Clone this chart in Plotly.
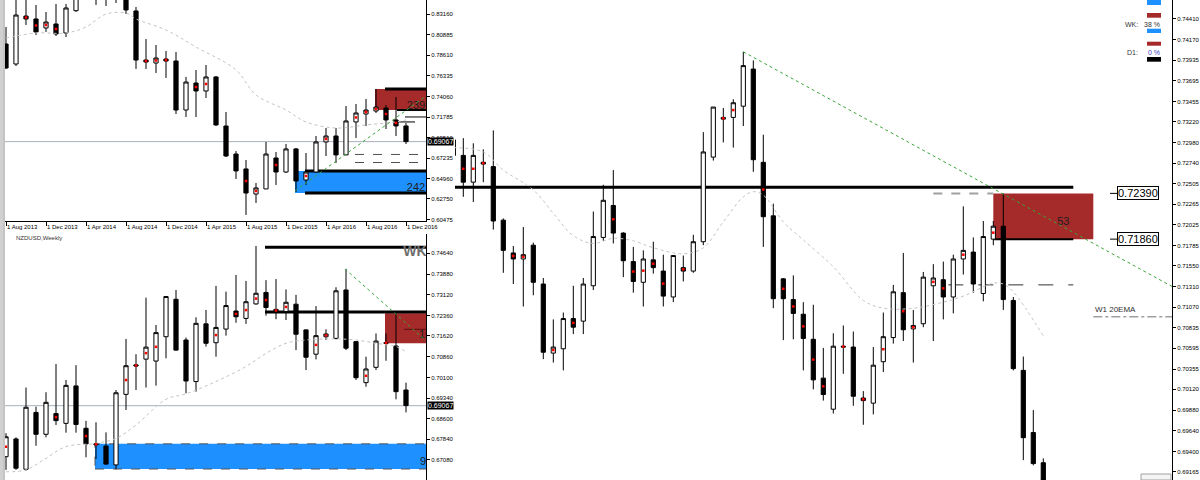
import plotly.graph_objects as go

FONT = "Liberation Sans"
W, H = 1200, 480

# ---------------- Monthly panel (top-left) ----------------
m_ticklabels = ["1 Aug 2013", "1 Dec 2013", "1 Apr 2014", "1 Aug 2014", "1 Dec 2014", "1 Apr 2015",
                "1 Aug 2015", "1 Dec 2015", "1 Apr 2016", "1 Aug 2016", "1 Dec 2016"]
m_open = [0.7985, 0.7764, 0.8294, 0.8261, 0.8162, 0.8206, 0.8107, 0.8353, 0.8680, 0.8650, 0.8560, 0.8760,
          0.8500, 0.8350, 0.7808, 0.7775, 0.7819, 0.7797, 0.7256, 0.7554, 0.7466, 0.7621, 0.7079, 0.6770,
          0.6605, 0.6328, 0.6384, 0.6726, 0.6571, 0.6826, 0.6483, 0.6571, 0.6903, 0.6969, 0.6760, 0.7124,
          0.7212, 0.7245, 0.7278, 0.7146, 0.7080]
m_high = [0.8173, 0.8480, 0.8500, 0.8416, 0.8338, 0.8427, 0.8427, 0.8720, 0.8790, 0.8760, 0.8800, 0.8840,
          0.8560, 0.8394, 0.8040, 0.7974, 0.7908, 0.7897, 0.7621, 0.7698, 0.7753, 0.7632, 0.7234, 0.6803,
          0.6704, 0.6450, 0.6903, 0.6792, 0.6881, 0.6837, 0.6781, 0.6969, 0.7057, 0.7057, 0.7300, 0.7322,
          0.7378, 0.7488, 0.7311, 0.7400, 0.7113]
m_low = [0.7709, 0.7742, 0.8195, 0.8084, 0.8118, 0.8073, 0.8062, 0.8340, 0.8530, 0.8416, 0.8405, 0.8438,
         0.8316, 0.7709, 0.7709, 0.7665, 0.7610, 0.7212, 0.7179, 0.7179, 0.7389, 0.7079, 0.6737, 0.6494,
         0.6097, 0.6229, 0.6384, 0.6428, 0.6560, 0.6351, 0.6428, 0.6571, 0.6748, 0.6671, 0.6760, 0.6947,
         0.7079, 0.7223, 0.7046, 0.6969, 0.6881]
m_close = [0.7720, 0.8305, 0.8261, 0.8118, 0.8228, 0.8096, 0.8383, 0.8680, 0.8650, 0.8560, 0.8760, 0.8500,
           0.8361, 0.7808, 0.7786, 0.7830, 0.7797, 0.7256, 0.7565, 0.7466, 0.7621, 0.7091, 0.6748, 0.6583,
           0.6339, 0.6395, 0.6770, 0.6571, 0.6826, 0.6472, 0.6571, 0.6903, 0.6969, 0.6760, 0.7135, 0.7223,
           0.7256, 0.7289, 0.7146, 0.7080, 0.6907]
m_red_dots = [2, 3, 4, 5, 14, 15, 16, 19, 20, 24, 25, 27, 30, 32, 35, 36, 37, 38, 39]
m_ema_idx = [0, 3, 6, 8, 10, 12, 13, 16, 19, 23, 25, 28, 30, 33, 36, 39, 40]
m_ema = [0.8051, 0.8107, 0.8107, 0.8173, 0.8316, 0.8327, 0.8261, 0.8140, 0.7952, 0.7698, 0.7422,
         0.7256, 0.7124, 0.7057, 0.7091, 0.7124, 0.7146]
m_yticks = [0.83160, 0.80885, 0.78610, 0.76335, 0.74060, 0.71785, 0.69510, 0.67235, 0.64960, 0.62750, 0.60475]
m_supply = [0.7256, 0.7488]
m_demand = [0.6339, 0.6583]
m_dash_levels = [0.6765, 0.6676]
m_thin_levels = [0.7179, 0.7124]
m_trend_x = [28.9, 42.0]
m_trend_y = [0.6362, 0.7411]
m_zone_labels = ["239", "242"]

# ---------------- Weekly panel (bottom-left) ----------------
w_open = [0.6720, 0.6785, 0.6674, 0.6882, 0.6802, 0.6878, 0.6842, 0.6979, 0.6824, 0.6767, 0.6759, 0.6690,
          0.6948, 0.7056, 0.7077, 0.7070, 0.7159, 0.7296, 0.7147, 0.6995, 0.7206, 0.7137, 0.7187, 0.7253,
          0.7226, 0.7279, 0.7321, 0.7259, 0.7251, 0.7278, 0.7184, 0.7095, 0.7159, 0.7153, 0.7330, 0.7141,
          0.6991, 0.7047, 0.7137, 0.7125, 0.6964]
w_high = [0.6806, 0.6791, 0.6973, 0.6903, 0.6956, 0.7059, 0.7001, 0.7055, 0.6851, 0.6846, 0.6809, 0.6964,
          0.7151, 0.7095, 0.7302, 0.7202, 0.7308, 0.7330, 0.7156, 0.7230, 0.7257, 0.7345, 0.7324, 0.7385,
          0.7363, 0.7491, 0.7366, 0.7370, 0.7332, 0.7312, 0.7186, 0.7271, 0.7186, 0.7340, 0.7407, 0.7143,
          0.7086, 0.7171, 0.7171, 0.7245, 0.6991]
w_low = [0.6672, 0.6672, 0.6669, 0.6760, 0.6791, 0.6836, 0.6808, 0.6808, 0.6718, 0.6712, 0.6690, 0.6674,
         0.6891, 0.6964, 0.6973, 0.6980, 0.7080, 0.7108, 0.6952, 0.6958, 0.7123, 0.7086, 0.7163, 0.7210,
         0.7206, 0.7276, 0.7236, 0.7223, 0.7220, 0.7110, 0.7037, 0.7076, 0.7147, 0.7149, 0.7110, 0.7001,
         0.6976, 0.7037, 0.7071, 0.6930, 0.6882]
w_close = [0.6793, 0.6678, 0.6901, 0.6802, 0.6919, 0.6852, 0.6981, 0.6838, 0.6767, 0.6764, 0.6693, 0.6954,
           0.7053, 0.7052, 0.7121, 0.7174, 0.7306, 0.7110, 0.6997, 0.7208, 0.7135, 0.7193, 0.7273, 0.7232,
           0.7287, 0.7318, 0.7266, 0.7251, 0.7285, 0.7168, 0.7084, 0.7163, 0.7169, 0.7327, 0.7117, 0.7009,
           0.7041, 0.7143, 0.7135, 0.6958, 0.6907]
w_red_dots = [0, 5, 8, 9, 12, 13, 14, 15, 21, 23, 24, 25, 26, 27, 28, 31, 32, 36, 38]
w_ema_idx = [0, 2, 4, 6, 9, 11, 13, 16, 18, 21, 24, 26, 28, 30, 33, 35, 37, 39, 40]
w_ema = [0.6665, 0.6672, 0.6714, 0.6757, 0.6769, 0.6787, 0.6836, 0.6930, 0.6950, 0.6995, 0.7050, 0.7098,
         0.7135, 0.7147, 0.7151, 0.7147, 0.7135, 0.7123, 0.7104]
w_yticks = [0.74640, 0.73880, 0.73120, 0.72360, 0.71620, 0.70860, 0.70100, 0.69340, 0.68600, 0.67840,
            0.67080, 0.66340]
w_supply = [0.7135, 0.7245]
w_demand = [0.6675, 0.6767]
w_wk_level = 0.7486
w_black_level = 0.7249
w_inner_level = 0.7186
w_trend_x = [33.9, 42.0]
w_trend_y = [0.7407, 0.7144]
w_zone_labels = ["WK", "10", "90"]

# ---------------- Daily panel (right) ----------------
d_open = [0.7301, 0.7283, 0.7252, 0.7275, 0.7270, 0.7208, 0.7170, 0.7163, 0.7179, 0.7134, 0.7054, 0.7059,
          0.7094, 0.7091, 0.7132, 0.7188, 0.7225, 0.7193, 0.7160, 0.7136, 0.7162, 0.7149, 0.7119, 0.7153,
          0.7149, 0.7183, 0.7281, 0.7325, 0.7327, 0.7340, 0.7383, 0.7275, 0.7213, 0.7140, 0.7116, 0.7099,
          0.7070, 0.7025, 0.6989, 0.7062, 0.7061, 0.7002, 0.6996, 0.7044, 0.7072, 0.7124, 0.7082, 0.7088,
          0.7132, 0.7139, 0.7119, 0.7163, 0.7171, 0.7123, 0.7186, 0.7201, 0.7115, 0.7034, 0.6962, 0.6927]
d_high = [0.7305, 0.7303, 0.7297, 0.7290, 0.7312, 0.7210, 0.7178, 0.7200, 0.7182, 0.7141, 0.7093, 0.7101,
          0.7132, 0.7141, 0.7218, 0.7249, 0.7266, 0.7194, 0.7177, 0.7173, 0.7183, 0.7168, 0.7167, 0.7167,
          0.7191, 0.7310, 0.7339, 0.7338, 0.7348, 0.7403, 0.7393, 0.7307, 0.7227, 0.7141, 0.7144, 0.7113,
          0.7110, 0.7060, 0.7077, 0.7086, 0.7079, 0.7010, 0.7061, 0.7101, 0.7133, 0.7170, 0.7104, 0.7148,
          0.7157, 0.7160, 0.7168, 0.7224, 0.7188, 0.7207, 0.7207, 0.7239, 0.7119, 0.7050, 0.6988, 0.6932]
d_low = [0.7278, 0.7235, 0.7229, 0.7252, 0.7197, 0.7147, 0.7134, 0.7108, 0.7121, 0.7047, 0.7043, 0.7034,
         0.7076, 0.7076, 0.7127, 0.7184, 0.7181, 0.7142, 0.7124, 0.7108, 0.7146, 0.7108, 0.7113, 0.7137,
         0.7147, 0.7179, 0.7277, 0.7298, 0.7292, 0.7317, 0.7264, 0.7177, 0.7106, 0.7069, 0.7070, 0.7034,
         0.7012, 0.6999, 0.6984, 0.7030, 0.6993, 0.6971, 0.6983, 0.7032, 0.7065, 0.7068, 0.7043, 0.7084,
         0.7068, 0.7093, 0.7100, 0.7145, 0.7124, 0.7114, 0.7179, 0.7104, 0.7034, 0.6930, 0.6924, 0.6895]
d_close = [0.7283, 0.7252, 0.7283, 0.7273, 0.7207, 0.7173, 0.7163, 0.7168, 0.7136, 0.7055, 0.7061, 0.7094,
           0.7084, 0.7134, 0.7189, 0.7231, 0.7193, 0.7161, 0.7137, 0.7163, 0.7153, 0.7120, 0.7167, 0.7149,
           0.7183, 0.7287, 0.7339, 0.7327, 0.7344, 0.7387, 0.7278, 0.7212, 0.7117, 0.7117, 0.7100, 0.7071,
           0.7023, 0.7006, 0.7062, 0.7061, 0.7004, 0.6999, 0.7040, 0.7073, 0.7125, 0.7081, 0.7086, 0.7142,
           0.7141, 0.7119, 0.7163, 0.7173, 0.7134, 0.7189, 0.7201, 0.7116, 0.7036, 0.6956, 0.6926, 0.6907]
d_red_dots = [1, 2, 3, 6, 7, 10, 12, 16, 18, 19, 20, 21, 23, 27, 28, 31, 33, 34, 35, 36, 37, 39, 41, 43,
              45, 46, 48, 49, 51, 54]
d_ema_idx = [0, 3, 5, 8, 10, 12, 14, 16, 18, 20, 23, 25, 27, 29, 30, 31, 33, 35, 38, 41, 43, 46, 49, 51,
             54, 55, 56, 59]
d_ema = [0.7292, 0.7287, 0.7266, 0.7243, 0.7216, 0.7190, 0.7181, 0.7187, 0.7184, 0.7176, 0.7169, 0.7176,
         0.7206, 0.7235, 0.7241, 0.7237, 0.7206, 0.7185, 0.7154, 0.7115, 0.7106, 0.7106, 0.7113, 0.7120,
         0.7135, 0.7134, 0.7125, 0.7074]
d_yticks = [0.74410, 0.74170, 0.73935, 0.73695, 0.73455, 0.73220, 0.72980, 0.72740, 0.72505, 0.72265,
            0.72025, 0.71785, 0.71550, 0.71310, 0.71070, 0.70835, 0.70595, 0.70355, 0.70120, 0.69880,
            0.69640, 0.69400, 0.69165]
d_supply = [0.7186, 0.7239]
d_black_level = 0.7246
d_gray_level = 0.7239
d_dash_level = 0.7133
d_w1ema_level = 0.7096
d_trend_x = [29, 71.9]
d_trend_y = [0.7403, 0.7131]
d_price_boxes = [0.72390, 0.71860]
d_zone_label = "53"

last_price = 0.69067
legend_rows = ["WK:", "38 %", "D1:", "0 %"]

# ---------------- helpers ----------------
def px_x(p):
    return p / W


def px_y(p):
    return 1 - p / H


fig = go.Figure()


def candles(o, h, l, c, xa, ya):
    fig.add_trace(go.Candlestick(
        x=list(range(len(o))), open=o, high=h, low=l, close=c, xaxis=xa, yaxis=ya,
        increasing=dict(line=dict(color="#000000", width=1), fillcolor="#ffffff"),
        decreasing=dict(line=dict(color="#000000", width=1), fillcolor="#000000"),
        whiskerwidth=0, hoverinfo="skip", showlegend=False))


def red_dots(idx, o, c, xa, ya):
    fig.add_trace(go.Scatter(
        x=idx, y=[(o[i] + c[i]) / 2 for i in idx], xaxis=xa, yaxis=ya, mode="markers",
        marker=dict(symbol="square", size=2.5, color="#ff0000", line=dict(width=0)),
        hoverinfo="skip", showlegend=False))


def ema(idx, vals, xa, ya):
    fig.add_trace(go.Scatter(
        x=idx, y=vals, xaxis=xa, yaxis=ya, mode="lines",
        line=dict(color="#c4c4c4", width=1, dash="dot", shape="spline"),
        hoverinfo="skip", showlegend=False))


def text_mark(x, y, txt, xa, ya, size, color, bold=False):
    fig.add_trace(go.Scatter(
        x=[x], y=[y], xaxis=xa, yaxis=ya, mode="text", text=["<b>%s</b>" % txt if bold else txt],
        textposition="middle center", textfont=dict(family=FONT, size=size, color=color),
        cliponaxis=True, hoverinfo="skip", showlegend=False))


def rect(xr, yr, x0, x1, y0, y1, fill, line_color=None, dash="solid", lw=0, layer="below"):
    fig.add_shape(type="rect", xref=xr, yref=yr, x0=x0, x1=x1, y0=y0, y1=y1, fillcolor=fill,
                  line=dict(color=line_color or fill, width=lw, dash=dash), layer=layer)


def hline(xr, yr, x0, x1, y, color, width=1, dash="solid", layer="below"):
    fig.add_shape(type="line", xref=xr, yref=yr, x0=x0, x1=x1, y0=y, y1=y,
                  line=dict(color=color, width=width, dash=dash), layer=layer)


def seg(xr, yr, x0, x1, y0, y1, color, width=1, dash="solid", layer="below"):
    fig.add_shape(type="line", xref=xr, yref=yr, x0=x0, x1=x1, y0=y0, y1=y1,
                  line=dict(color=color, width=width, dash=dash), layer=layer)


RED = "#a52a2a"
BLUE = "#1e90ff"
PRICE_LINE = "#a8b0bc"
GREEN = "#3aa63a"

# ---------------- monthly ----------------
rect("x", "y", 36.9, 43, m_supply[0], m_supply[1], RED)
hline("x", "y", 37.9, 43, m_supply[1], "#000000", 3)
hline("x", "y", 39.1, 43, m_supply[0], "#000000", 2)
rect("x", "y", 28.9, 43, m_demand[0], m_demand[1], BLUE)
hline("x", "y", 29.9, 43, m_demand[1], "#000000", 3)
hline("x", "y", 29.9, 43, m_demand[0], "#000000", 3)
for lv in m_dash_levels:
    hline("x", "y", 34.9, 43, lv, "#505050", 1, "dash")
hline("x", "y", 39.9, 43, m_thin_levels[0], "#000000", 1)
hline("x", "y", 39.1, 40.9, m_thin_levels[1], "#000000", 1)
hline("x", "y", -1, 43, last_price, PRICE_LINE, 1)
ema(m_ema_idx, m_ema, "x", "y")
candles(m_open, m_high, m_low, m_close, "x", "y")
red_dots(m_red_dots, m_open, m_close, "x", "y")
seg("x", "y", m_trend_x[0], m_trend_x[1], m_trend_y[0], m_trend_y[1], GREEN, 1, "dot", "above")
text_mark(41.0, 0.7300, m_zone_labels[0], "x", "y", 11, "#202020")
text_mark(41.0, 0.6395, m_zone_labels[1], "x", "y", 11, "#202020")

# ---------------- weekly ----------------
rect("x2", "y2", 37.9, 43, w_supply[0], w_supply[1], RED)
hline("x2", "y2", 39.8, 43, w_inner_level, "#5a1010", 1)
rect("x2", "y2", 8.9, 43, w_demand[0], w_demand[1], BLUE, "#555555", "dash", 1)
hline("x2", "y2", 25.9, 43, w_wk_level, "#000000", 3)
hline("x2", "y2", 25.9, 43, w_black_level, "#000000", 3)
hline("x2", "y2", -1, 43, last_price, PRICE_LINE, 1)
ema(w_ema_idx, w_ema, "x2", "y2")
candles(w_open, w_high, w_low, w_close, "x2", "y2")
red_dots(w_red_dots, w_open, w_close, "x2", "y2")
seg("x2", "y2", w_trend_x[0], w_trend_x[1], w_trend_y[0], w_trend_y[1], GREEN, 1, "dot", "above")
text_mark(40.9, 0.7466, w_zone_labels[0], "x2", "y2", 14, "#6e6e6e", bold=True)
text_mark(41.9, 0.7163, w_zone_labels[1], "x2", "y2", 11, "#202020")
text_mark(42.0, 0.6700, w_zone_labels[2], "x2", "y2", 11, "#202020")

# ---------------- daily ----------------
rect("x3", "y3", 54, 64, d_supply[0], d_supply[1], RED)
hline("x3", "y3", 54, 62, d_supply[0], "#000000", 2)
hline("x3", "y3", -1, 62, d_black_level, "#000000", 3)
hline("x3", "y3", 48, 54, d_gray_level, "#a0a0a0", 2, "dash")
hline("x3", "y3", 49.5, 62, d_dash_level, "#303030", 1, "longdash")
hline("x3", "y3", 64, 75, d_w1ema_level, "#707070", 1, "dashdot")
ema(d_ema_idx, d_ema, "x3", "y3")
candles(d_open, d_high, d_low, d_close, "x3", "y3")
red_dots(d_red_dots, d_open, d_close, "x3", "y3")
seg("x3", "y3", d_trend_x[0], d_trend_x[1], d_trend_y[0], d_trend_y[1], GREEN, 1, "dot", "above")
text_mark(61.0, 0.7206, d_zone_label, "x3", "y3", 11, "#202020")

annotations = []
# price boxes on the daily chart
for pv in d_price_boxes:
    annotations.append(dict(xref="paper", yref="y3", x=px_x(1117), y=pv, xanchor="left", yanchor="middle",
                            text="%.5f" % pv, showarrow=False, font=dict(family=FONT, size=11, color="#000"),
                            bgcolor="#ffffff", bordercolor="#000000", borderwidth=1, borderpad=0))
    seg("paper", "y3", px_x(1110), px_x(1117), pv, pv, "#000000", 1, "solid", "above")
annotations.append(dict(xref="x3", yref="y3", x=64, y=0.7104, xanchor="left", yanchor="middle",
                        text="W1 20EMA", showarrow=False, font=dict(family=FONT, size=8, color="#303030")))
# last price tags on the axes
for ya in ["y", "y2", "y3"]:
    annotations.append(dict(xref="paper", yref=ya, x=px_x(427 if ya != "y3" else 1173), y=last_price,
                            xanchor="left", yanchor="middle",
                            text="%.5f" % last_price, showarrow=False,
                            font=dict(family=FONT, size=7, color="#ffffff"), bgcolor="#000000", borderpad=0))
annotations.append(dict(xref="paper", yref="paper", x=px_x(14), y=px_y(238), xanchor="left", yanchor="middle",
                        text="NZDUSD,Weekly", showarrow=False, font=dict(family=FONT, size=6, color="#333333")))

# small toolbar box in the bottom-right corner of the daily chart
rect("paper", "paper", px_x(1141), px_x(1171), px_y(480), px_y(474), "#f4f4f4", "#a0a0a0", "solid", 1, "above")

# legend block top-right of daily chart
for (y0, y1, col) in [(0, 5, BLUE), (13, 17.7, RED), (28.7, 33, BLUE), (41.7, 45.7, RED), (57, 61.7, "#000000")]:
    rect("paper", "paper", px_x(1147), px_x(1161), px_y(y1), px_y(y0), col, layer="above")
annotations.append(dict(xref="paper", yref="paper", x=px_x(1140), y=px_y(24), xanchor="right", yanchor="middle",
                        text=legend_rows[0], showarrow=False, font=dict(family=FONT, size=7, color="#333")))
annotations.append(dict(xref="paper", yref="paper", x=px_x(1162), y=px_y(24), xanchor="right", yanchor="middle",
                        text=legend_rows[1], showarrow=False, font=dict(family=FONT, size=7, color="#333")))
annotations.append(dict(xref="paper", yref="paper", x=px_x(1140), y=px_y(52), xanchor="right", yanchor="middle",
                        text=legend_rows[2], showarrow=False, font=dict(family=FONT, size=7, color="#333")))
annotations.append(dict(xref="paper", yref="paper", x=px_x(1162), y=px_y(52), xanchor="right", yanchor="middle",
                        text=legend_rows[3], showarrow=False, font=dict(family=FONT, size=7, color="#3a3ac0")))

# window border on the far left
rect("paper", "paper", 0, px_x(3), 0, 1, "#d0d0d0", layer="above")
seg("paper", "paper", px_x(4), px_x(4), 0, 1, "#8a8a8a", 1, "solid", "above")

tickfont = dict(family=FONT, size=6, color="#000000")
yax_common = dict(side="right", showline=True, linecolor="#000000", linewidth=1, ticks="outside", ticklen=3,
                  tickcolor="#000000", tickfont=tickfont, showgrid=False, zeroline=False, fixedrange=True,
                  automargin=False)

fig.update_layout(
    template="none",
    width=W, height=H, margin=dict(l=0, r=0, t=0, b=0, autoexpand=False),
    paper_bgcolor="#ffffff", plot_bgcolor="#ffffff",
    showlegend=False, boxgap=0.4, annotations=annotations, hovermode=False,
    xaxis=dict(domain=[px_x(5), px_x(426)], range=[-0.1, 42.0], anchor="y", showline=True, linecolor="#000",
               linewidth=1, ticks="outside", ticklen=4, tickcolor="#000", tickfont=tickfont, tickangle=0,
               tickvals=[4 * i for i in range(len(m_ticklabels))], ticktext=m_ticklabels,
               ticklabelposition="outside right", showgrid=False, zeroline=False, automargin=False,
               fixedrange=True, rangeslider=dict(visible=False)),
    yaxis=dict(domain=[px_y(221), 1], range=[0.6030, 0.8471], anchor="x", tickvals=m_yticks,
               ticktext=["%.5f" % v for v in m_yticks], **yax_common),
    xaxis2=dict(domain=[px_x(5), px_x(426)], range=[-0.1, 42.0], anchor="y2", showticklabels=False,
                showline=False, showgrid=False, zeroline=False, automargin=False, fixedrange=True,
                rangeslider=dict(visible=False)),
    yaxis2=dict(domain=[0, px_y(234)], range=[0.66348, 0.75348], anchor="x2", tickvals=w_yticks,
                ticktext=["%.5f" % v for v in w_yticks], **yax_common),
    xaxis3=dict(domain=[px_x(455), px_x(1172)], range=[0.17, 71.87], anchor="y3", showticklabels=False,
                showline=False, showgrid=False, zeroline=False, automargin=False, fixedrange=True,
                rangeslider=dict(visible=False)),
    yaxis3=dict(domain=[0, 1], range=[0.6907, 0.7463], anchor="x3", tickvals=d_yticks,
                ticktext=["%.5f" % v for v in d_yticks], **yax_common),
)

# the page body has a default 8px margin; remove it so the figure sits at the window's corner
fig.write_html("out.html", config={"displayModeBar": False, "staticPlot": True},
               post_script="document.body.style.margin='0';document.body.style.overflow='hidden';")
